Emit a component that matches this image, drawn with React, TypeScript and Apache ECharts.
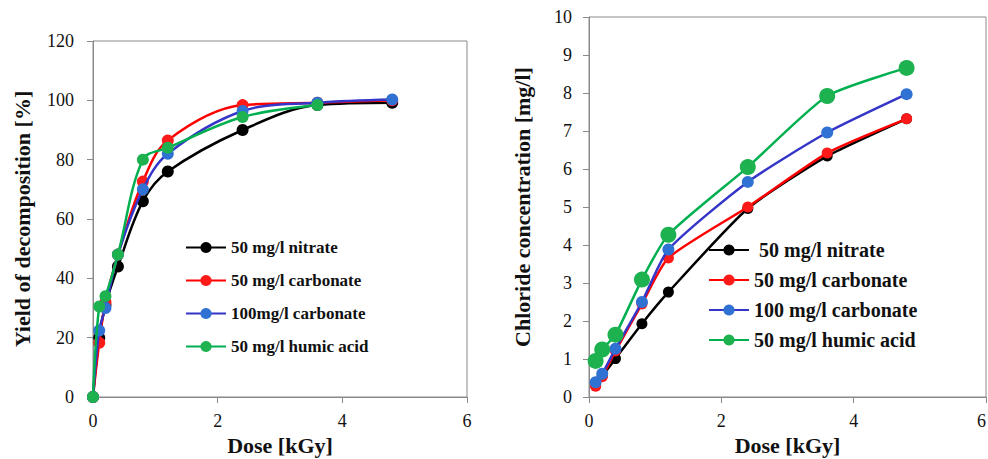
import React, { useEffect, useRef } from 'react';
import * as echarts from 'echarts';

// Left chart: yield of decomposition [%] vs dose [kGy]
const doseYield = [0, 0.1, 0.2, 0.4, 0.8, 1.2, 2.4, 3.6, 4.8];
const yieldNitrate = [0, 20, 31, 44, 66, 76, 90, 98.4, 99.2];
const yieldCarb50 = [0, 18.3, 32, 48, 72.6, 86.5, 98.4, 99.2, 100];
const yieldCarb100 = [0, 22.4, 30, 48, 70, 82, 96.4, 99.2, 100.3];
const yieldHumic = [0, 30.5, 34, 48, 80, 84, 94.4, 98.4];

// Right chart: chloride concentration [mg/l] vs dose [kGy]
const doseCl = [0.1, 0.2, 0.4, 0.8, 1.2, 2.4, 3.6, 4.8];
const clNitrate = [0.3, 0.55, 1.01, 1.93, 2.76, 4.96, 6.34, 7.32];
const clCarb50 = [0.28, 0.53, 1.21, 2.45, 3.66, 5.0, 6.42, 7.32];
const clCarb100 = [0.39, 0.61, 1.27, 2.5, 3.88, 5.66, 6.96, 7.97];
const clHumic = [0.95, 1.25, 1.64, 3.09, 4.27, 6.05, 7.92, 8.66];

const leftNames = ['50 mg/l nitrate', '50 mg/l carbonate', '100mg/l carbonate', '50 mg/l humic acid'];
const rightNames = [' 50 mg/l nitrate', '50 mg/l carbonate', '100 mg/l carbonate', '50 mg/l humic acid'];

const lineColors = ['#000000', '#ff0000', '#3535c8', '#00b050'];
const markerColors = ['#000000', '#ff1a1a', '#2f72d4', '#1db14f'];

const SERIF = '"Liberation Serif", "Times New Roman", serif';
const AXIS_GRAY = '#8a8a8a';

function pairs(xs: number[], ys: number[]) {
  return ys.map((y, i) => [xs[i], y]);
}

function makeSeries(names: string[], xs: number[], ys: number[][], sizes: number[], smooth: number) {
  return ys.map((vals, i) => ({
    type: 'line',
    name: names[i],
    data: pairs(xs, vals),
    smooth,
    symbol: 'circle',
    symbolSize: sizes[i],
    lineStyle: { color: lineColors[i], width: 2.5 },
    itemStyle: { color: markerColors[i], borderWidth: 0 },
    z: 2 + i,
  }));
}

function baseAxes(yMax: number, yInterval: number, yName: string, yNameGap: number, yLabelMargin: number, alignMax: boolean) {
  return {
    xAxis: {
      type: 'value',
      min: 0,
      max: 6,
      interval: 2,
      name: 'Dose [kGy]',
      nameLocation: 'middle',
      nameGap: 36,
      nameTextStyle: { fontFamily: SERIF, fontWeight: 'bold', fontSize: 22, color: '#111' },
      axisLine: { show: true, lineStyle: { color: AXIS_GRAY, width: 1 } },
      axisTick: { show: true, inside: false, length: 6, lineStyle: { color: AXIS_GRAY } },
      axisLabel: {
        fontFamily: SERIF, fontSize: 18, color: '#111', margin: 15,
        ...(alignMax ? { alignMaxLabel: 'right' } : {}),
      },
      splitLine: { show: false },
    },
    yAxis: {
      type: 'value',
      min: 0,
      max: yMax,
      interval: yInterval,
      name: yName,
      nameLocation: 'middle',
      nameGap: yNameGap,
      nameTextStyle: { fontFamily: SERIF, fontWeight: 'bold', fontSize: 22, color: '#111' },
      axisLine: { show: true, lineStyle: { color: AXIS_GRAY, width: 1 } },
      axisTick: { show: true, inside: false, length: 6, lineStyle: { color: AXIS_GRAY } },
      axisLabel: { fontFamily: SERIF, fontSize: 18, color: '#111', margin: yLabelMargin },
      splitLine: { show: false },
    },
  };
}

function legendOpt(names: string[], left: number, top: number, gap: number, fontSize: number) {
  return {
    orient: 'vertical',
    left,
    top,
    itemWidth: 40,
    itemHeight: 14,
    itemGap: gap,
    data: names,
    textStyle: { fontFamily: SERIF, fontWeight: 'bold', fontSize, color: '#111' },
    selectedMode: false,
  };
}

export default function App() {
  const leftRef = useRef<HTMLDivElement>(null);
  const rightRef = useRef<HTMLDivElement>(null);

  useEffect(() => {
    const left = echarts.init(leftRef.current!, null, { renderer: 'svg' });
    const right = echarts.init(rightRef.current!, null, { renderer: 'svg' });

    const la = baseAxes(120, 20, 'Yield of decomposition [%]', 60, 19, false);
    left.setOption({
      animation: false,
      backgroundColor: '#ffffff',
      grid: {
        left: 93, right: 27, top: 41, bottom: 62,
        show: true, borderColor: AXIS_GRAY, borderWidth: 1,
        containLabel: false, outerBoundsMode: 'none',
      },
      xAxis: la.xAxis,
      yAxis: la.yAxis,
      legend: legendOpt(leftNames, 180, 234, 16, 17),
      series: makeSeries(leftNames, doseYield, [yieldNitrate, yieldCarb50, yieldCarb100, yieldHumic], [12, 12, 12, 12], 0.35),
    });

    const ra = baseAxes(10, 1, 'Chloride concentration [mg/l]', 56, 17, true);
    right.setOption({
      animation: false,
      backgroundColor: '#ffffff',
      grid: {
        left: 95, right: 2, top: 17, bottom: 62,
        show: true, borderColor: AXIS_GRAY, borderWidth: 1,
        containLabel: false, outerBoundsMode: 'none',
      },
      xAxis: ra.xAxis,
      yAxis: ra.yAxis,
      legend: legendOpt(rightNames, 209, 235, 10, 20),
      series: makeSeries(rightNames, doseCl, [clNitrate, clCarb50, clCarb100, clHumic], [11, 11, 12, 16], 0.2),
    });

    return () => {
      left.dispose();
      right.dispose();
    };
  }, []);

  return (
    <div style={{ position: 'fixed', left: 0, top: 0, width: 988, height: 459, background: '#fff' }}>
      <div ref={leftRef} style={{ position: 'absolute', left: 0, top: 0, width: 494, height: 459 }} />
      <div ref={rightRef} style={{ position: 'absolute', left: 494, top: 0, width: 494, height: 459 }} />
    </div>
  );
}
